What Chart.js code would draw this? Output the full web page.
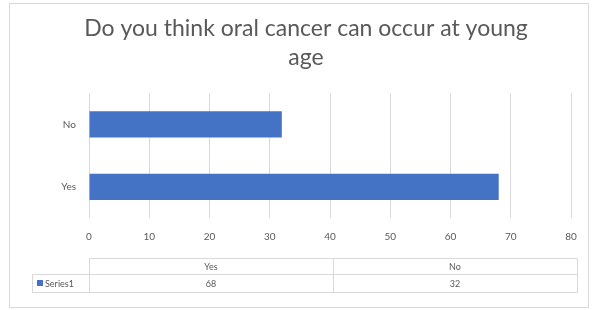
<!DOCTYPE html>
<html>
<head>
<meta charset="utf-8">
<script src="https://cdn.jsdelivr.net/npm/chart.js@4"></script>
<style>
    html, body { margin: 0; padding: 0; background: #fff; overflow: hidden; }
    #box {
        position: absolute;
        left: 9px;
        top: 3px;
        width: 578px;
        height: 303px;
        border: 1px solid #d9d9d9;
    }
    #chart { position: absolute; left: 0; top: 0; }
</style>
</head>
<body>
<div id="box"><canvas id="chart" width="592" height="303"></canvas></div>
<script>
var titleLines = ['Do you think oral cancer can occur at young', 'age'];
var categories = ['Yes', 'No'];
var seriesName = 'Series1';
var seriesValues = [68, 32];
var axisMin = 0;
var axisMax = 80;
var axisStep = 10;

var FONT = 'Lato, "Open Sans", sans-serif';
var TEXT = '#595959';

// Excel-like data table under the plot
var dataTable = {
    id: 'dataTable',
    afterDraw: function (chart) {
        var ctx = chart.ctx;
        var area = chart.chartArea;
        var left = area.left;
        var right = area.right + 6;
        var top = Math.round(area.bottom + 40);
        var row1 = 16;
        var row2 = 18;
        var legLeft = 22;
        var colW = (right - left) / categories.length;

        ctx.save();
        ctx.strokeStyle = '#d9d9d9';
        ctx.lineWidth = 1;
        ctx.beginPath();
        // header row
        ctx.rect(left + 0.5, top + 0.5, right - left, row1);
        // values row incl. legend cell
        ctx.rect(legLeft + 0.5, top + row1 + 0.5, right - legLeft, row2);
        ctx.moveTo(left + 0.5, top + row1);
        ctx.lineTo(left + 0.5, top + row1 + row2 + 1);
        for (var i = 1; i < categories.length; i++) {
            var x = Math.round(left + colW * i) + 0.5;
            ctx.moveTo(x, top);
            ctx.lineTo(x, top + row1 + row2 + 1);
        }
        ctx.stroke();

        ctx.fillStyle = TEXT;
        ctx.font = '9px ' + FONT;
        ctx.textAlign = 'center';
        ctx.textBaseline = 'middle';
        for (var j = 0; j < categories.length; j++) {
            var cx = left + colW * (j + 0.5);
            ctx.fillText(categories[j], cx, top + row1 / 2 + 1);
            ctx.fillText(String(seriesValues[j]), cx, top + row1 + row2 / 2 + 1);
        }

        // legend key
        ctx.fillStyle = '#4472C4';
        ctx.fillRect(legLeft + 5, top + row1 + row2 / 2 - 3, 6, 6);
        ctx.fillStyle = TEXT;
        ctx.textAlign = 'left';
        ctx.fillText(seriesName, legLeft + 13, top + row1 + row2 / 2 + 1);
        ctx.restore();
    }
};

new Chart(document.getElementById('chart').getContext('2d'), {
    type: 'bar',
    data: {
        labels: categories,
        datasets: [{
            label: seriesName,
            data: seriesValues,
            backgroundColor: '#4472C4',
            borderWidth: 0,
            categoryPercentage: 1,
            barPercentage: 0.42
        }]
    },
    options: {
        indexAxis: 'y',
        responsive: false,
        animation: false,
        layout: {
            padding: { left: 31, right: 31, top: 0, bottom: 55 }
        },
        plugins: {
            legend: { display: false },
            tooltip: { enabled: false },
            title: {
                display: true,
                text: titleLines,
                color: TEXT,
                font: { family: FONT, size: 23, weight: 'normal', lineHeight: 1.22 },
                padding: { top: 11, bottom: 22 }
            }
        },
        scales: {
            x: {
                min: axisMin,
                max: axisMax,
                ticks: {
                    stepSize: axisStep,
                    color: TEXT,
                    font: { family: FONT, size: 10 },
                    padding: 13
                },
                grid: { color: '#d9d9d9', drawTicks: false },
                border: { display: false },
                afterFit: function (scale) { scale.height = 34; }
            },
            y: {
                reverse: true,
                ticks: {
                    color: TEXT,
                    font: { family: FONT, size: 10 },
                    padding: 13
                },
                grid: { display: false, drawTicks: false },
                border: { display: false },
                afterFit: function (scale) { scale.width = 48; }
            }
        }
    },
    plugins: [dataTable]
});
</script>
</body>
</html>
